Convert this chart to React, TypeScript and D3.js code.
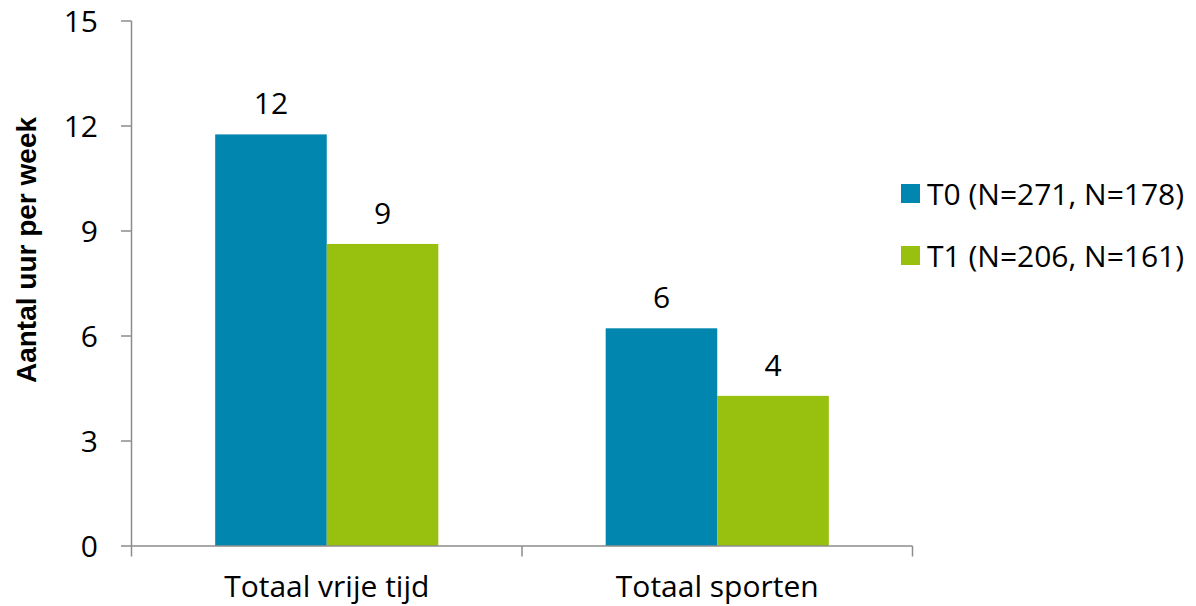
import React from "react";
import * as d3 from "d3";

const categories = ["Totaal vrije tijd", "Totaal sporten"];
const seriesNames = ["T0 (N=271, N=178)", "T1 (N=206, N=161)"];
const seriesKeys = ["T0", "T1"];
const valuesT0 = [11.76, 6.22];
const valuesT1 = [8.63, 4.29];
const labelsT0 = ["12", "6"];
const labelsT1 = ["9", "4"];
const yTicks = [0, 3, 6, 9, 12, 15];
const colors = ["#0086AF", "#98C00F"];
const yTitle = "Aantal uur per week";

const W = 1196;
const H = 606;
const FONT = "'Open Sans', sans-serif";

export default function App() {
  const y = d3.scaleLinear().domain([0, 15]).range([546, 21]);
  const x0 = d3
    .scaleBand<string>()
    .domain(categories)
    .range([131.5, 912.5])
    .paddingInner(0.4286)
    .paddingOuter(0.2143);
  const x1 = d3
    .scaleBand<string>()
    .domain(seriesKeys)
    .range([0, x0.bandwidth()])
    .padding(0);
  const seriesVals = [valuesT0, valuesT1];
  const seriesLabels = [labelsT0, labelsT1];
  const axisColor = "#8C8C8C";
  const step = x0.step();
  const catBounds = [131.5, 131.5 + step, 131.5 + 2 * step];

  return (
    <svg
      width={W}
      height={H}
      style={{ position: "absolute", left: 0, top: 0, background: "#fff" }}
      fontFamily={FONT}
    >
      {/* bars */}
      {categories.map((c, ci) =>
        seriesKeys.map((k, si) => {
          const v = seriesVals[si][ci];
          const bx = (x0(c) as number) + (x1(k) as number);
          return (
            <g key={c + k}>
              <rect
                x={bx}
                y={y(v)}
                width={x1.bandwidth()}
                height={y(0) - y(v)}
                fill={colors[si]}
              />
              <text
                x={bx + x1.bandwidth() / 2}
                y={y(v) - 20}
                textAnchor="middle"
                fontSize={30}
                fill="#000"
              >
                {seriesLabels[si][ci]}
              </text>
            </g>
          );
        })
      )}
      {/* y axis */}
      <line x1={131.5} x2={131.5} y1={y(15)} y2={y(0)} stroke={axisColor} strokeWidth={1.5} />
      {yTicks.map((t) => (
        <g key={t}>
          <line x1={121} x2={131.5} y1={y(t)} y2={y(t)} stroke={axisColor} strokeWidth={1.5} />
          <text x={98} y={y(t) + 11} textAnchor="end" fontSize={30} fill="#000">
            {t}
          </text>
        </g>
      ))}
      {/* x axis */}
      <line x1={131.5} x2={912.5} y1={y(0)} y2={y(0)} stroke={axisColor} strokeWidth={1.5} />
      {catBounds.map((b, i) => (
        <line key={i} x1={b} x2={b} y1={y(0)} y2={556.5} stroke={axisColor} strokeWidth={1.5} />
      ))}
      {categories.map((c) => (
        <text
          key={c}
          x={(x0(c) as number) + x0.bandwidth() / 2}
          y={597}
          textAnchor="middle"
          fontSize={30}
          fill="#000"
        >
          {c}
        </text>
      ))}
      {/* y title */}
      <text
        transform={`translate(36,250) rotate(-90)`}
        textAnchor="middle"
        fontFamily="'Liberation Sans', Arial, sans-serif"
        fontWeight="bold"
        fontSize={28}
        fill="#000"
      >
        {yTitle}
      </text>
      {/* legend */}
      {seriesNames.map((n, i) => (
        <g key={n} transform={`translate(901, ${184 + i * 62})`}>
          <rect x={0} y={0} width={19} height={19} fill={colors[i]} />
          <text x={26} y={21} fontSize={30} fill="#000">
            {n}
          </text>
        </g>
      ))}
    </svg>
  );
}
